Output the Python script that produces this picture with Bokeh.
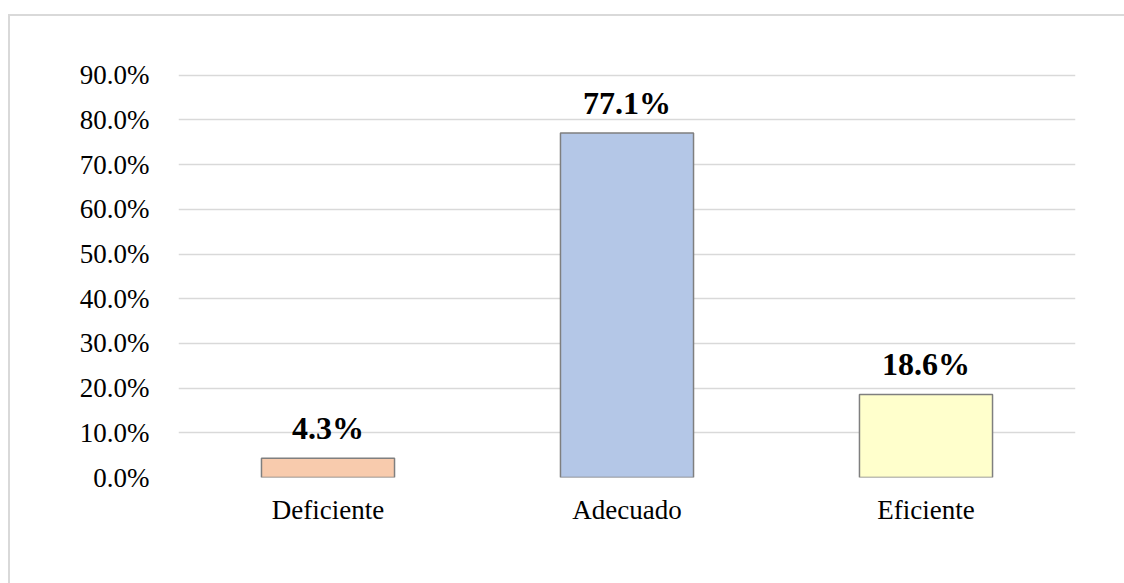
from bokeh.plotting import figure
from bokeh.models import ColumnDataSource, PrintfTickFormatter, FixedTicker
from bokeh.core.properties import value
from bokeh.embed import file_html
from bokeh.resources import INLINE

categories = ["Deficiente", "Adecuado", "Eficiente"]
percentages = [4.3, 77.1, 18.6]
bar_colors = ["#F8CBAD", "#B4C7E7", "#FFFFCC"]
labels = ["4.3%", "77.1%", "18.6%"]
y_ticks = [0, 10, 20, 30, 40, 50, 60, 70, 80, 90]

source = ColumnDataSource(data=dict(cat=categories, val=percentages, color=bar_colors, label=labels))

FONT = "Liberation Serif"

p = figure(x_range=categories, y_range=(0, 90.4),
           frame_width=897, frame_height=404,
           min_border_left=168, min_border_top=57, min_border_right=49, min_border_bottom=106,
           output_backend="svg", toolbar_location=None,
           styles={"margin-top": "14px", "margin-left": "8px",
                   "border-left": "2px solid #d9d9d9", "border-top": "2px solid #d9d9d9"})

p.vbar(x="cat", top="val", width=0.445, source=source,
       fill_color="color", line_color="#7f7f7f", line_width=1.5)

p.text(x="cat", y="val", text="label", source=source,
       text_align="center", text_baseline="alphabetic", y_offset=-30,
       text_font=value(FONT), text_font_style="bold", text_font_size="32px", text_color="#000000")

p.outline_line_color = None
p.xgrid.grid_line_color = None
p.ygrid.grid_line_color = "#d9d9d9"
p.ygrid.grid_line_width = 1.5
p.ygrid.ticker = FixedTicker(ticks=y_ticks)

p.yaxis.ticker = FixedTicker(ticks=y_ticks)
p.yaxis.formatter = PrintfTickFormatter(format="%.1f%%")
for ax in (p.xaxis[0], p.yaxis[0]):
    ax.axis_line_color = None
    ax.major_tick_line_color = None
    ax.minor_tick_line_color = None
    ax.major_label_text_font = FONT
    ax.major_label_text_font_size = "27px"
    ax.major_label_text_color = "#000000"
p.yaxis.major_label_standoff = 23
p.xaxis.major_label_standoff = 11

open("out.html", "w").write(file_html(p, INLINE))
